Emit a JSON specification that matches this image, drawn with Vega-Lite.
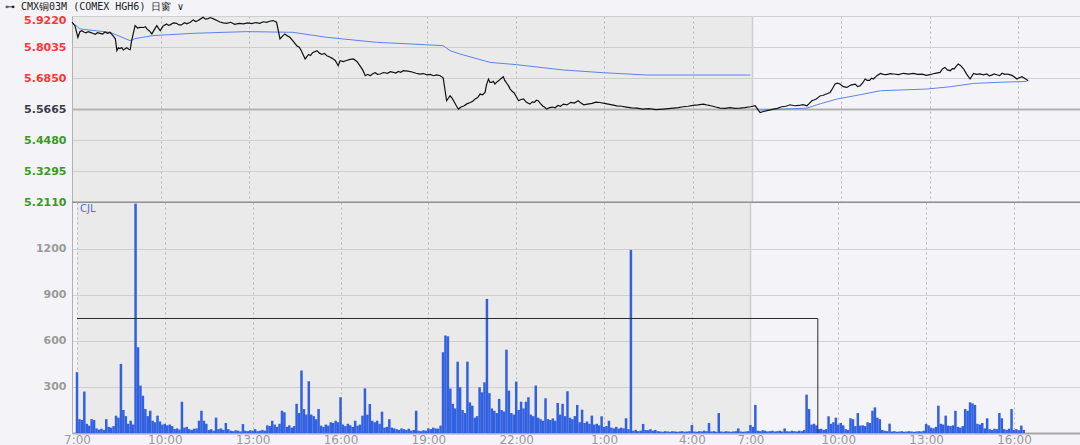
{
  "$schema": "https://vega.github.io/schema/vega-lite/v6.json",
  "background": "#f4f4f8",
  "padding": {"left": 0, "top": 2, "right": 0, "bottom": 0},
  "title": {"text": "⊶ CMX铜03M (COMEX HGH6)   日窗 ∨", "anchor": "start", "frame": "bounds", "font": "DejaVu Sans Mono", "fontSize": 10, "fontWeight": "normal", "color": "#222222", "offset": 2, "dx": 5},
  "spacing": 0,
  "bounds": "flush",
  "config": {"view": {"stroke": null}, "axis": {"labelOverlap": false}},
  "datasets": {
    "session": [{"a": 0, "b": 1380}],
    "price": [
      {"m":0,"p":5.898},{"m":6,"p":5.885},{"m":12,"p":5.8405},{"m":16,"p":5.862},{"m":20,"p":5.866},{"m":24,"p":5.861},{"m":28,"p":5.858},{"m":33,"p":5.862},{"m":37,"p":5.8596},{"m":42,"p":5.856},{"m":47,"p":5.852},{"m":52,"p":5.858},{"m":57,"p":5.8558},{"m":62,"p":5.853},{"m":67,"p":5.861},{"m":72,"p":5.856},{"m":77,"p":5.8596},{"m":83,"p":5.847},{"m":88,"p":5.835},{"m":91,"p":5.7895},{"m":94,"p":5.8},{"m":97,"p":5.7972},{"m":101,"p":5.801},{"m":104,"p":5.792},{"m":108,"p":5.797},{"m":111,"p":5.801},{"m":115,"p":5.795},{"m":118,"p":5.7933},{"m":121,"p":5.8278},{"m":128,"p":5.8853},{"m":133,"p":5.876},{"m":138,"p":5.8788},{"m":145,"p":5.878},{"m":149,"p":5.881},{"m":152,"p":5.8727},{"m":157,"p":5.865},{"m":162,"p":5.8535},{"m":167,"p":5.87},{"m":172,"p":5.8853},{"m":176,"p":5.874},{"m":179,"p":5.8661},{"m":185,"p":5.884},{"m":192,"p":5.8918},{"m":196,"p":5.886},{"m":200,"p":5.889},{"m":206,"p":5.896},{"m":212,"p":5.8941},{"m":217,"p":5.888},{"m":222,"p":5.888},{"m":228,"p":5.896},{"m":233,"p":5.8918},{"m":240,"p":5.898},{"m":246,"p":5.9071},{"m":251,"p":5.901},{"m":256,"p":5.905},{"m":261,"p":5.911},{"m":266,"p":5.9171},{"m":271,"p":5.91},{"m":276,"p":5.912},{"m":281,"p":5.916},{"m":287,"p":5.911},{"m":294,"p":5.905},{"m":300,"p":5.899},{"m":307,"p":5.896},{"m":314,"p":5.8941},{"m":322,"p":5.898},{"m":330,"p":5.89},{"m":339,"p":5.894},{"m":348,"p":5.8918},{"m":356,"p":5.896},{"m":365,"p":5.893},{"m":373,"p":5.897},{"m":381,"p":5.8941},{"m":388,"p":5.9},{"m":395,"p":5.898},{"m":401,"p":5.902},{"m":408,"p":5.9045},{"m":415,"p":5.898},{"m":422,"p":5.8343},{"m":427,"p":5.845},{"m":432,"p":5.8535},{"m":437,"p":5.846},{"m":442,"p":5.8405},{"m":449,"p":5.825},{"m":456,"p":5.8086},{"m":461,"p":5.803},{"m":465,"p":5.79},{"m":473,"p":5.7577},{"m":480,"p":5.775},{"m":484,"p":5.771},{"m":488,"p":5.782},{"m":497,"p":5.7895},{"m":502,"p":5.78},{"m":507,"p":5.775},{"m":512,"p":5.779},{"m":517,"p":5.7703},{"m":522,"p":5.766},{"m":528,"p":5.76},{"m":534,"p":5.752},{"m":540,"p":5.732},{"m":544,"p":5.7512},{"m":550,"p":5.748},{"m":557,"p":5.752},{"m":564,"p":5.756},{"m":571,"p":5.7577},{"m":578,"p":5.748},{"m":584,"p":5.732},{"m":590,"p":5.715},{"m":595,"p":5.6937},{"m":600,"p":5.699},{"m":605,"p":5.6937},{"m":610,"p":5.701},{"m":615,"p":5.705},{"m":620,"p":5.699},{"m":625,"p":5.7002},{"m":632,"p":5.706},{"m":640,"p":5.703},{"m":646,"p":5.709},{"m":652,"p":5.7064},{"m":657,"p":5.704},{"m":662,"p":5.71},{"m":667,"p":5.707},{"m":672,"p":5.7129},{"m":681,"p":5.711},{"m":690,"p":5.708},{"m":698,"p":5.703},{"m":706,"p":5.7002},{"m":713,"p":5.702},{"m":720,"p":5.697},{"m":727,"p":5.699},{"m":733,"p":5.6937},{"m":740,"p":5.697},{"m":747,"p":5.6937},{"m":753,"p":5.686},{"m":760,"p":5.598},{"m":767,"p":5.6171},{"m":771,"p":5.608},{"m":775,"p":5.595},{"m":780,"p":5.578},{"m":784,"p":5.5662},{"m":790,"p":5.575},{"m":795,"p":5.578},{"m":801,"p":5.586},{"m":808,"p":5.5915},{"m":813,"p":5.596},{"m":818,"p":5.605},{"m":823,"p":5.61},{"m":828,"p":5.6236},{"m":833,"p":5.621},{"m":838,"p":5.6298},{"m":841,"p":5.66},{"m":845,"p":5.6811},{"m":848,"p":5.668},{"m":851,"p":5.668},{"m":855,"p":5.672},{"m":858,"p":5.6619},{"m":862,"p":5.67},{"m":866,"p":5.675},{"m":871,"p":5.684},{"m":875,"p":5.6899},{"m":878,"p":5.676},{"m":882,"p":5.665},{"m":886,"p":5.654},{"m":889,"p":5.6428},{"m":893,"p":5.634},{"m":897,"p":5.628},{"m":901,"p":5.615},{"m":906,"p":5.598},{"m":911,"p":5.603},{"m":916,"p":5.605},{"m":922,"p":5.592},{"m":929,"p":5.5853},{"m":934,"p":5.594},{"m":938,"p":5.592},{"m":942,"p":5.6},{"m":946,"p":5.598},{"m":950,"p":5.588},{"m":955,"p":5.578},{"m":959,"p":5.573},{"m":963,"p":5.5662},{"m":969,"p":5.572},{"m":975,"p":5.574},{"m":980,"p":5.571},{"m":986,"p":5.58},{"m":991,"p":5.577},{"m":997,"p":5.5853},{"m":1004,"p":5.582},{"m":1012,"p":5.592},{"m":1019,"p":5.589},{"m":1027,"p":5.598},{"m":1032,"p":5.59},{"m":1038,"p":5.5826},{"m":1046,"p":5.585},{"m":1055,"p":5.588},{"m":1063,"p":5.593},{"m":1071,"p":5.5914},{"m":1080,"p":5.588},{"m":1088,"p":5.585},{"m":1096,"p":5.582},{"m":1105,"p":5.5788},{"m":1115,"p":5.577},{"m":1125,"p":5.574},{"m":1135,"p":5.571},{"m":1146,"p":5.57},{"m":1158,"p":5.566},{"m":1170,"p":5.568},{"m":1185,"p":5.564},{"m":1200,"p":5.5662},{"m":1210,"p":5.568},{"m":1220,"p":5.57},{"m":1230,"p":5.572},{"m":1240,"p":5.575},{"m":1250,"p":5.577},{"m":1260,"p":5.58},{"m":1270,"p":5.582},{"m":1281,"p":5.5853},{"m":1290,"p":5.581},{"m":1298,"p":5.578},{"m":1306,"p":5.574},{"m":1315,"p":5.57},{"m":1325,"p":5.569},{"m":1335,"p":5.572},{"m":1345,"p":5.569},{"m":1355,"p":5.57},{"m":1365,"p":5.572},{"m":1376,"p":5.575},{"m":1386,"p":5.5788},{"m":1396,"p":5.5531},{"m":1403,"p":5.557},{"m":1410,"p":5.56},{"m":1417,"p":5.563},{"m":1423,"p":5.5662},{"m":1431,"p":5.569},{"m":1440,"p":5.575},{"m":1448,"p":5.577},{"m":1457,"p":5.5826},{"m":1466,"p":5.579},{"m":1475,"p":5.58},{"m":1483,"p":5.583},{"m":1491,"p":5.5788},{"m":1496,"p":5.588},{"m":1501,"p":5.598},{"m":1505,"p":5.601},{"m":1510,"p":5.605},{"m":1514,"p":5.611},{"m":1518,"p":5.6171},{"m":1523,"p":5.618},{"m":1528,"p":5.622},{"m":1533,"p":5.626},{"m":1538,"p":5.6298},{"m":1543,"p":5.645},{"m":1548,"p":5.6619},{"m":1553,"p":5.665},{"m":1558,"p":5.6619},{"m":1565,"p":5.652},{"m":1572,"p":5.6489},{"m":1580,"p":5.658},{"m":1589,"p":5.6619},{"m":1594,"p":5.652},{"m":1599,"p":5.6554},{"m":1604,"p":5.666},{"m":1609,"p":5.6811},{"m":1613,"p":5.676},{"m":1618,"p":5.676},{"m":1622,"p":5.684},{"m":1626,"p":5.6811},{"m":1633,"p":5.694},{"m":1640,"p":5.7025},{"m":1646,"p":5.699},{"m":1652,"p":5.698},{"m":1660,"p":5.702},{"m":1667,"p":5.7002},{"m":1677,"p":5.698},{"m":1687,"p":5.703},{"m":1697,"p":5.7},{"m":1707,"p":5.7025},{"m":1716,"p":5.699},{"m":1725,"p":5.7},{"m":1733,"p":5.695},{"m":1741,"p":5.6976},{"m":1751,"p":5.703},{"m":1761,"p":5.7064},{"m":1766,"p":5.72},{"m":1771,"p":5.7255},{"m":1776,"p":5.716},{"m":1782,"p":5.7129},{"m":1786,"p":5.721},{"m":1790,"p":5.72},{"m":1794,"p":5.73},{"m":1798,"p":5.7386},{"m":1803,"p":5.732},{"m":1809,"p":5.7194},{"m":1815,"p":5.7},{"m":1822,"p":5.6811},{"m":1829,"p":5.7025},{"m":1835,"p":5.699},{"m":1842,"p":5.701},{"m":1849,"p":5.697},{"m":1856,"p":5.7002},{"m":1861,"p":5.693},{"m":1866,"p":5.696},{"m":1871,"p":5.701},{"m":1876,"p":5.6976},{"m":1882,"p":5.694},{"m":1887,"p":5.703},{"m":1892,"p":5.699},{"m":1897,"p":5.7002},{"m":1902,"p":5.698},{"m":1907,"p":5.695},{"m":1912,"p":5.689},{"m":1917,"p":5.6811},{"m":1922,"p":5.686},{"m":1927,"p":5.6899},{"m":1931,"p":5.686},{"m":1934,"p":5.682},{"m":1940,"p":5.6746}
    ],
    "vwap": [
      {"m":0,"p":5.898,"s":1},{"m":16,"p":5.8727,"s":1},{"m":77,"p":5.8596,"s":1},{"m":118,"p":5.8278,"s":1},{"m":128,"p":5.8355,"s":1},{"m":164,"p":5.847,"s":1},{"m":246,"p":5.8558,"s":1},{"m":354,"p":5.8623,"s":1},{"m":448,"p":5.8596,"s":1},{"m":517,"p":5.8405,"s":1},{"m":618,"p":5.8213,"s":1},{"m":686,"p":5.8152,"s":1},{"m":753,"p":5.8086,"s":1},{"m":767,"p":5.7895,"s":1},{"m":787,"p":5.7768,"s":1},{"m":848,"p":5.7447,"s":1},{"m":902,"p":5.7359,"s":1},{"m":997,"p":5.7156,"s":1},{"m":1078,"p":5.7052,"s":1},{"m":1166,"p":5.6964,"s":1},{"m":1268,"p":5.6964,"s":1},{"m":1376,"p":5.6964,"s":1},
      {"m":1396,"p":5.5623,"s":2},{"m":1491,"p":5.57,"s":2},{"m":1518,"p":5.5865,"s":2},{"m":1552,"p":5.6045,"s":2},{"m":1599,"p":5.621,"s":2},{"m":1640,"p":5.6363,"s":2},{"m":1734,"p":5.6428,"s":2},{"m":1782,"p":5.6516,"s":2},{"m":1829,"p":5.6642,"s":2},{"m":1883,"p":5.6688,"s":2},{"m":1937,"p":5.6719,"s":2}
    ],
    "step": [{"m":0,"v":746,"o":1},{"m":1518,"v":746,"o":2},{"m":1518,"v":0,"o":3}],
    "lab": [{"m":0,"v":1505,"t":"CJL"}],
    "vol": [
      {"m":0,"v":396},{"m":5,"v":90},{"m":10,"v":85},{"m":15,"v":270},{"m":20,"v":60},{"m":25,"v":48},{"m":30,"v":90},{"m":35,"v":85},{"m":40,"v":30},{"m":45,"v":22},{"m":50,"v":28},{"m":55,"v":20},{"m":60,"v":90},{"m":65,"v":40},{"m":70,"v":35},{"m":75,"v":45},{"m":80,"v":113},{"m":85,"v":100},{"m":90,"v":450},{"m":95,"v":150},{"m":100,"v":110},{"m":105,"v":60},{"m":110,"v":80},{"m":115,"v":55},{"m":120,"v":1494},{"m":125,"v":559},{"m":130,"v":309},{"m":135,"v":243},{"m":140,"v":156},{"m":145,"v":110},{"m":150,"v":145},{"m":155,"v":80},{"m":160,"v":70},{"m":165,"v":113},{"m":170,"v":75},{"m":175,"v":55},{"m":180,"v":60},{"m":185,"v":50},{"m":190,"v":55},{"m":195,"v":45},{"m":200,"v":26},{"m":205,"v":30},{"m":210,"v":22},{"m":215,"v":204},{"m":220,"v":35},{"m":225,"v":40},{"m":230,"v":25},{"m":235,"v":20},{"m":240,"v":28},{"m":245,"v":30},{"m":250,"v":80},{"m":255,"v":145},{"m":260,"v":80},{"m":265,"v":60},{"m":270,"v":20},{"m":275,"v":25},{"m":280,"v":15},{"m":285,"v":100},{"m":290,"v":25},{"m":295,"v":30},{"m":300,"v":20},{"m":305,"v":65},{"m":310,"v":25},{"m":315,"v":15},{"m":320,"v":12},{"m":325,"v":18},{"m":330,"v":15},{"m":335,"v":10},{"m":340,"v":58},{"m":345,"v":15},{"m":350,"v":12},{"m":355,"v":18},{"m":360,"v":15},{"m":365,"v":25},{"m":370,"v":12},{"m":375,"v":15},{"m":380,"v":20},{"m":385,"v":15},{"m":390,"v":50},{"m":395,"v":45},{"m":400,"v":80},{"m":405,"v":55},{"m":410,"v":40},{"m":415,"v":60},{"m":420,"v":145},{"m":425,"v":135},{"m":430,"v":40},{"m":435,"v":50},{"m":440,"v":35},{"m":445,"v":45},{"m":450,"v":190},{"m":455,"v":130},{"m":460,"v":407},{"m":465,"v":156},{"m":470,"v":120},{"m":475,"v":337},{"m":480,"v":120},{"m":485,"v":110},{"m":490,"v":90},{"m":495,"v":156},{"m":500,"v":48},{"m":505,"v":40},{"m":510,"v":55},{"m":515,"v":48},{"m":520,"v":70},{"m":525,"v":65},{"m":530,"v":80},{"m":535,"v":70},{"m":540,"v":233},{"m":545,"v":55},{"m":550,"v":45},{"m":555,"v":60},{"m":560,"v":50},{"m":565,"v":40},{"m":570,"v":80},{"m":575,"v":48},{"m":580,"v":55},{"m":585,"v":113},{"m":590,"v":291},{"m":595,"v":120},{"m":600,"v":189},{"m":605,"v":80},{"m":610,"v":70},{"m":615,"v":80},{"m":620,"v":60},{"m":625,"v":139},{"m":630,"v":35},{"m":635,"v":40},{"m":640,"v":90},{"m":645,"v":35},{"m":650,"v":30},{"m":655,"v":25},{"m":660,"v":20},{"m":665,"v":30},{"m":670,"v":25},{"m":675,"v":20},{"m":680,"v":28},{"m":685,"v":15},{"m":690,"v":20},{"m":695,"v":145},{"m":700,"v":15},{"m":705,"v":12},{"m":710,"v":18},{"m":715,"v":15},{"m":720,"v":30},{"m":725,"v":25},{"m":730,"v":35},{"m":735,"v":30},{"m":740,"v":28},{"m":745,"v":48},{"m":750,"v":526},{"m":755,"v":635},{"m":760,"v":630},{"m":765,"v":290},{"m":770,"v":190},{"m":775,"v":160},{"m":780,"v":465},{"m":785,"v":298},{"m":790,"v":150},{"m":795,"v":130},{"m":800,"v":465},{"m":805,"v":200},{"m":810,"v":178},{"m":815,"v":100},{"m":820,"v":110},{"m":825,"v":298},{"m":830,"v":265},{"m":835,"v":330},{"m":840,"v":874},{"m":845,"v":260},{"m":850,"v":160},{"m":855,"v":145},{"m":860,"v":130},{"m":865,"v":222},{"m":870,"v":150},{"m":875,"v":140},{"m":880,"v":543},{"m":885,"v":276},{"m":890,"v":130},{"m":895,"v":120},{"m":900,"v":335},{"m":905,"v":150},{"m":910,"v":204},{"m":915,"v":160},{"m":920,"v":204},{"m":925,"v":233},{"m":930,"v":120},{"m":935,"v":110},{"m":940,"v":309},{"m":945,"v":100},{"m":950,"v":90},{"m":955,"v":80},{"m":960,"v":226},{"m":965,"v":90},{"m":970,"v":85},{"m":975,"v":95},{"m":980,"v":80},{"m":985,"v":196},{"m":990,"v":120},{"m":995,"v":190},{"m":1000,"v":110},{"m":1005,"v":272},{"m":1010,"v":100},{"m":1015,"v":90},{"m":1020,"v":110},{"m":1025,"v":183},{"m":1030,"v":70},{"m":1035,"v":152},{"m":1040,"v":65},{"m":1045,"v":75},{"m":1050,"v":60},{"m":1055,"v":113},{"m":1060,"v":55},{"m":1065,"v":60},{"m":1070,"v":50},{"m":1075,"v":109},{"m":1080,"v":40},{"m":1085,"v":45},{"m":1090,"v":80},{"m":1095,"v":35},{"m":1100,"v":30},{"m":1105,"v":40},{"m":1110,"v":28},{"m":1115,"v":35},{"m":1120,"v":30},{"m":1125,"v":96},{"m":1130,"v":25},{"m":1135,"v":1193},{"m":1140,"v":15},{"m":1145,"v":20},{"m":1150,"v":12},{"m":1155,"v":15},{"m":1160,"v":59},{"m":1165,"v":20},{"m":1170,"v":18},{"m":1175,"v":25},{"m":1180,"v":15},{"m":1185,"v":20},{"m":1190,"v":12},{"m":1195,"v":10},{"m":1200,"v":8},{"m":1205,"v":12},{"m":1210,"v":10},{"m":1215,"v":8},{"m":1220,"v":12},{"m":1225,"v":10},{"m":1230,"v":8},{"m":1235,"v":10},{"m":1240,"v":12},{"m":1245,"v":8},{"m":1250,"v":10},{"m":1255,"v":12},{"m":1260,"v":52},{"m":1265,"v":10},{"m":1270,"v":8},{"m":1275,"v":12},{"m":1280,"v":10},{"m":1285,"v":15},{"m":1290,"v":12},{"m":1295,"v":65},{"m":1300,"v":10},{"m":1305,"v":12},{"m":1310,"v":8},{"m":1315,"v":130},{"m":1320,"v":10},{"m":1325,"v":8},{"m":1330,"v":12},{"m":1335,"v":10},{"m":1340,"v":8},{"m":1345,"v":10},{"m":1350,"v":12},{"m":1355,"v":30},{"m":1360,"v":10},{"m":1365,"v":8},{"m":1370,"v":10},{"m":1375,"v":12},
      {"m":1380,"v":52},{"m":1385,"v":40},{"m":1390,"v":183},{"m":1395,"v":15},{"m":1400,"v":12},{"m":1405,"v":18},{"m":1410,"v":15},{"m":1415,"v":10},{"m":1420,"v":12},{"m":1425,"v":15},{"m":1430,"v":10},{"m":1435,"v":12},{"m":1440,"v":15},{"m":1445,"v":10},{"m":1450,"v":30},{"m":1455,"v":12},{"m":1460,"v":10},{"m":1465,"v":15},{"m":1470,"v":12},{"m":1475,"v":10},{"m":1480,"v":15},{"m":1485,"v":12},{"m":1490,"v":20},{"m":1495,"v":250},{"m":1500,"v":156},{"m":1505,"v":55},{"m":1510,"v":60},{"m":1515,"v":50},{"m":1520,"v":25},{"m":1525,"v":28},{"m":1530,"v":20},{"m":1535,"v":25},{"m":1540,"v":109},{"m":1545,"v":60},{"m":1550,"v":70},{"m":1555,"v":100},{"m":1560,"v":55},{"m":1565,"v":65},{"m":1570,"v":50},{"m":1575,"v":25},{"m":1580,"v":20},{"m":1585,"v":96},{"m":1590,"v":90},{"m":1595,"v":45},{"m":1600,"v":130},{"m":1605,"v":48},{"m":1610,"v":50},{"m":1615,"v":45},{"m":1620,"v":70},{"m":1625,"v":65},{"m":1630,"v":145},{"m":1635,"v":167},{"m":1640,"v":100},{"m":1645,"v":90},{"m":1650,"v":20},{"m":1655,"v":15},{"m":1660,"v":12},{"m":1665,"v":61},{"m":1670,"v":10},{"m":1675,"v":12},{"m":1680,"v":8},{"m":1685,"v":10},{"m":1690,"v":12},{"m":1695,"v":8},{"m":1700,"v":10},{"m":1705,"v":12},{"m":1710,"v":10},{"m":1715,"v":8},{"m":1720,"v":10},{"m":1725,"v":12},{"m":1730,"v":10},{"m":1735,"v":15},{"m":1740,"v":59},{"m":1745,"v":50},{"m":1750,"v":35},{"m":1755,"v":30},{"m":1760,"v":40},{"m":1765,"v":178},{"m":1770,"v":60},{"m":1775,"v":55},{"m":1780,"v":113},{"m":1785,"v":48},{"m":1790,"v":45},{"m":1795,"v":50},{"m":1800,"v":145},{"m":1805,"v":40},{"m":1810,"v":35},{"m":1815,"v":45},{"m":1820,"v":156},{"m":1825,"v":145},{"m":1830,"v":200},{"m":1835,"v":193},{"m":1840,"v":183},{"m":1845,"v":60},{"m":1850,"v":55},{"m":1855,"v":65},{"m":1860,"v":30},{"m":1865,"v":96},{"m":1870,"v":25},{"m":1875,"v":20},{"m":1880,"v":28},{"m":1885,"v":25},{"m":1890,"v":130},{"m":1895,"v":96},{"m":1900,"v":25},{"m":1905,"v":20},{"m":1910,"v":28},{"m":1915,"v":156},{"m":1920,"v":20},{"m":1925,"v":25},{"m":1930,"v":18},{"m":1935,"v":48},{"m":1940,"v":20}
    ]
  },
  "vconcat": [
    {
      "width": 1008,
      "height": 186,
      "layer": [
        {
          "data": {"name": "session"},
          "mark": {"type": "rect", "color": "#c2c2b2", "opacity": 0.2},
          "encoding": {
            "x": {"field": "a", "type": "quantitative", "scale": {"domain": [0, 2045], "nice": false, "zero": false},
              "axis": {"values": [0,180,360,540,720,900,1080,1260,1380,1560,1740,1920], "tickCount": 30, "labels": false, "ticks": false, "title": null, "labelPadding": 0, "minExtent": 0, "maxExtent": 0, "domainColor": "#8c8c8c", "domainWidth": 1,
                "grid": true, "gridColor": {"condition": {"test": "datum.value == 1380", "value": "#cfcfcf"}, "value": "#b4b4b4"}, "gridDash": {"condition": {"test": "datum.value == 1380", "value": []}, "value": [2, 3]}, "gridWidth": {"condition": {"test": "datum.value == 1380", "value": 1.5}, "value": 1}}},
            "x2": {"field": "b"}
          }
        },
        {
          "data": {"name": "vwap"},
          "mark": {"type": "line", "color": "#5b84ea", "strokeWidth": 1},
          "encoding": {
            "x": {"field": "m", "type": "quantitative"},
            "y": {"field": "p", "type": "quantitative", "scale": {"domain": [5.211, 5.922], "nice": false, "zero": false},
              "axis": {"values": [5.211, 5.3295, 5.448, 5.5665, 5.685, 5.8035, 5.922], "tickCount": 20, "format": ".4f", "title": null, "ticks": false, "labelPadding": 6, "minExtent": 72, "maxExtent": 72, "labelOverlap": false, "labelBound": false,
                "labelFont": "DejaVu Sans", "labelFontSize": 11, "labelFontWeight": "bold",
                "labelColor": {"condition": [{"test": "datum.value > 5.57", "value": "#ff3434"}, {"test": "datum.value < 5.56", "value": "#3a9a22"}], "value": "#3b3b4a"},
                "labelOffset": {"condition": {"test": "datum.value > 5.92", "value": 4}, "value": 0},
                "domainColor": "#b0b0b0", "domainWidth": 1,
                "grid": true, "gridColor": {"condition": {"test": "abs(datum.value - 5.5665) < 0.001", "value": "#b0b0b0"}, "value": "#d2d2d2"}, "gridWidth": {"condition": {"test": "abs(datum.value - 5.5665) < 0.001", "value": 2}, "value": 1}}},
            "detail": {"field": "s", "type": "nominal"}
          }
        },
        {
          "data": {"name": "price"},
          "mark": {"type": "line", "color": "#111111", "strokeWidth": 1.2},
          "encoding": {
            "x": {"field": "m", "type": "quantitative"},
            "y": {"field": "p", "type": "quantitative"}
          }
        }
      ]
    },
    {
      "width": 1008,
      "height": 231,
      "layer": [
        {
          "data": {"name": "session"},
          "mark": {"type": "rect", "color": "#c2c2b2", "opacity": 0.2},
          "encoding": {
            "x": {"field": "a", "type": "quantitative", "scale": {"domain": [0, 2045], "nice": false, "zero": false},
              "axis": {"values": [0,180,360,540,720,900,1080,1260,1380,1560,1740,1920], "tickCount": 30, "title": null, "ticks": false, "labelPadding": 1,
                "labelExpr": "(datum.value < 1380 ? floor(((420 + datum.value) % 1440) / 60) : floor((datum.value - 960) / 60)) + ':00'",
                "labelFont": "DejaVu Sans", "labelFontSize": 12, "labelColor": "#9a9a9a", "labelFlush": false, "labelOverlap": false, "labelBound": false, "maxExtent": 13,
                "domainColor": "#a8a8a8", "domainWidth": 2,
                "grid": true, "gridColor": {"condition": {"test": "datum.value == 1380", "value": "#cfcfcf"}, "value": "#b4b4b4"}, "gridDash": {"condition": {"test": "datum.value == 1380", "value": []}, "value": [2, 3]}, "gridWidth": {"condition": {"test": "datum.value == 1380", "value": 1.5}, "value": 1}}},
            "x2": {"field": "b"}
          }
        },
        {
          "data": {"name": "vol"},
          "mark": {"type": "bar", "color": "#3160e0", "width": 2.5},
          "encoding": {
            "x": {"field": "m", "type": "quantitative"},
            "y": {"field": "v", "type": "quantitative", "scale": {"domain": [0, 1505], "nice": false},
              "axis": {"values": [300, 600, 900, 1200], "tickCount": 20, "format": "d", "title": null, "ticks": false, "labelPadding": 6, "minExtent": 72, "maxExtent": 72, "labelOverlap": false,
                "labelFont": "DejaVu Sans", "labelFontSize": 11, "labelFontWeight": "bold", "labelColor": "#9a9a9a",
                "domainColor": "#b0b0b0", "gridColor": "#d2d2d2", "grid": true}}
          }
        },
        {
          "data": {"name": "step"},
          "mark": {"type": "line", "color": "#2a2a2a", "strokeWidth": 1},
          "encoding": {
            "x": {"field": "m", "type": "quantitative"},
            "y": {"field": "v", "type": "quantitative"},
            "order": {"field": "o", "type": "quantitative"}
          }
        },
        {
          "data": {"name": "lab"},
          "mark": {"type": "rule", "color": "#8c8c8c", "strokeWidth": 1.2},
          "encoding": {
            "y": {"field": "v", "type": "quantitative"}
          }
        },
        {
          "data": {"name": "lab"},
          "mark": {"type": "text", "align": "left", "baseline": "top", "dx": 3, "dy": 2, "font": "DejaVu Sans", "fontSize": 10, "color": "#4a72e6"},
          "encoding": {
            "x": {"field": "m", "type": "quantitative"},
            "y": {"field": "v", "type": "quantitative"},
            "text": {"field": "t"}
          }
        }
      ]
    }
  ]
}
